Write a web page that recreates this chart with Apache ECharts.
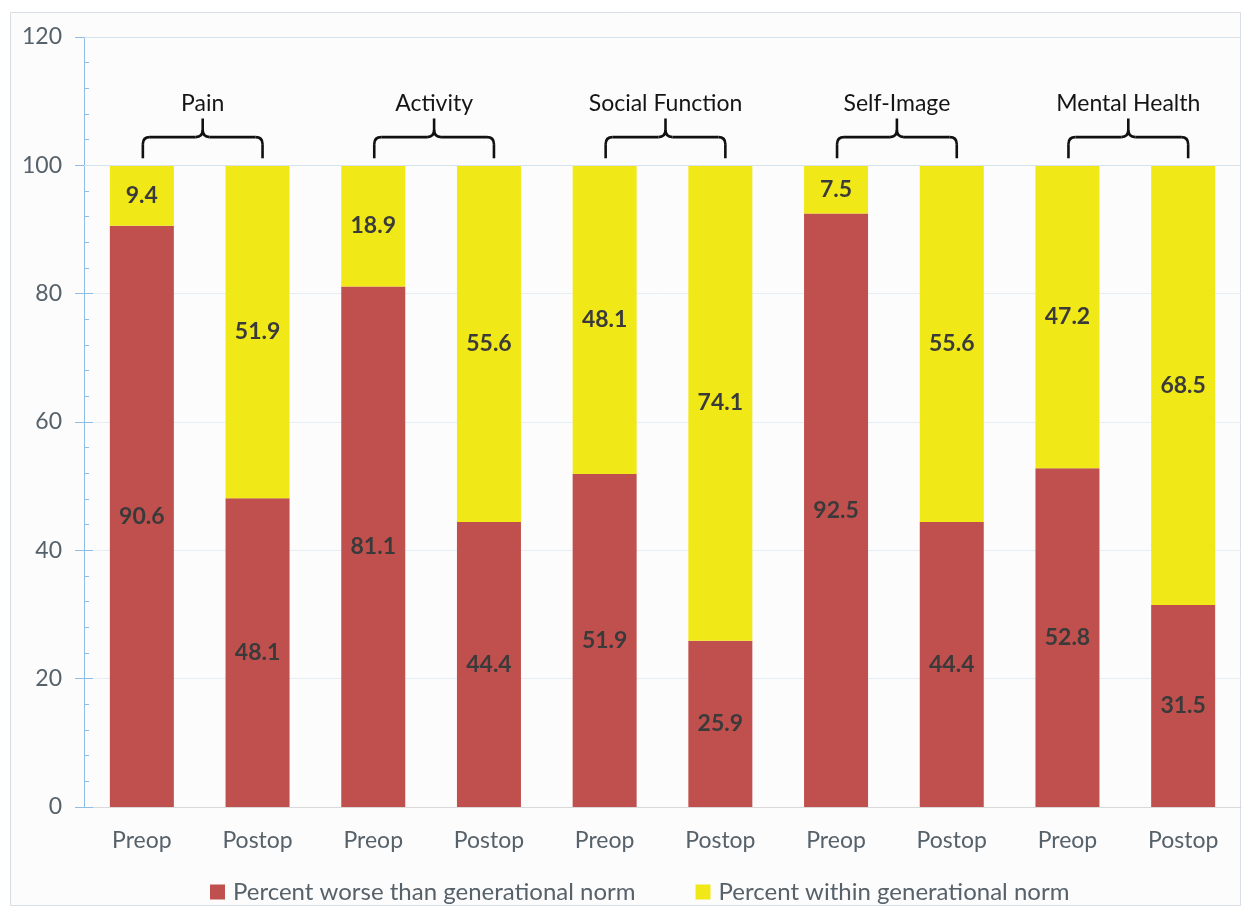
<!DOCTYPE html>
<html>
<head>
<meta charset="utf-8">
<title>Generational norm comparison</title>
<script src="https://cdn.jsdelivr.net/npm/echarts@6/dist/echarts.min.js"></script>
<style>
  html, body { margin: 0; padding: 0; background: #ffffff; }
  #chart { width: 1250px; height: 914px; }
</style>
</head>
<body>
<div id="chart"></div>
<script>
// Domains, each shown before and after surgery
const groups = ['Pain', 'Activity', 'Social Function', 'Self-Image', 'Mental Health'];
const phases = ['Preop', 'Postop'];
const categories = ['Preop', 'Postop', 'Preop', 'Postop', 'Preop', 'Postop', 'Preop', 'Postop', 'Preop', 'Postop'];

// Percent of patients worse than / within the generational norm
const worseValues  = [90.6, 48.1, 81.1, 44.4, 51.9, 25.9, 92.5, 44.4, 52.8, 31.5];
const withinValues = [9.4, 51.9, 18.9, 55.6, 48.1, 74.1, 7.5, 55.6, 47.2, 68.5];

const seriesNames = ['Percent worse than generational norm', 'Percent within generational norm'];
const yTicks = { min: 0, max: 120, interval: 20 };

const FONT = 'Lato, "Open Sans", sans-serif';
const TEXT_GRAY = '#56616a';
const AXIS_BLUE = '#8fbde6';

// bracket rows: [first category index, second category index]
const bracketData = groups.map((g, i) => [i * 2, i * 2 + 1, g]);

function renderBracket(params, api) {
  const i0 = api.value(0), i1 = api.value(1);
  const name = groups[params.dataIndex];
  const a = api.coord([i0, 101.1]);
  const b = api.coord([i1, 101.1]);
  const yb = a[1];
  const yh = api.coord([i0, 104.4])[1];
  const yp = api.coord([i0, 107.3])[1];
  const yl = api.coord([i0, 109.6])[1];
  const x1 = a[0] + 1, x2 = b[0] + 5;
  const xm = (x1 + x2) / 2;
  const r = 7;
  const st = { stroke: '#111111', lineWidth: 2.6, fill: null };
  const seg = (p, q) => ({ type: 'line', shape: { x1: p[0], y1: p[1], x2: q[0], y2: q[1] }, style: st });
  const curve = (p, c, q) => ({ type: 'bezierCurve', shape: { x1: p[0], y1: p[1], cpx1: c[0], cpy1: c[1], x2: q[0], y2: q[1] }, style: st });
  return {
    type: 'group',
    children: [
      seg([x1, yb], [x1, yh + r]),
      curve([x1, yh + r], [x1, yh], [x1 + r, yh]),
      seg([x1 + r, yh], [xm - r, yh]),
      curve([xm - r, yh], [xm, yh], [xm, yh - r]),
      seg([xm, yh - r], [xm, yp]),
      curve([xm, yh - r], [xm, yh], [xm + r, yh]),
      seg([xm + r, yh], [x2 - r, yh]),
      curve([x2 - r, yh], [x2, yh], [x2, yh + r]),
      seg([x2, yh + r], [x2, yb]),
      {
        type: 'text',
        style: {
          x: xm, y: yl, text: name, align: 'center', verticalAlign: 'middle',
          font: '23px ' + FONT, fill: '#151515'
        }
      }
    ]
  };
}

const chart = echarts.init(document.getElementById('chart'), null, { renderer: 'canvas' });

const barLabel = {
  show: true,
  position: 'inside',
  fontFamily: FONT,
  fontSize: 23,
  fontWeight: 'bold',
  color: '#3a3a3a'
};

chart.setOption({
  backgroundColor: '#ffffff',
  animation: false,
  graphic: [{
    type: 'rect',
    z: -10,
    shape: { x: 10.5, y: 12.5, width: 1230, height: 893 },
    style: { fill: '#fcfcfd', stroke: '#d8dee4', lineWidth: 1 }
  }],
  grid: { left: 84, right: 9, top: 37, bottom: 107, containLabel: false },
  legend: {
    left: 205,
    top: 875,
    itemWidth: 15,
    itemHeight: 15,
    itemGap: 60,
    icon: 'rect',
    textStyle: { fontFamily: FONT, fontSize: 24, color: TEXT_GRAY, padding: [0, 0, 0, 3] },
    data: seriesNames
  },
  xAxis: {
    type: 'category',
    data: categories,
    axisTick: { show: false },
    axisLine: { lineStyle: { color: '#d9d9d9', width: 1 } },
    axisLabel: { fontFamily: FONT, fontSize: 23, color: TEXT_GRAY, margin: 22 }
  },
  yAxis: [{
    type: 'value',
    min: yTicks.min,
    max: yTicks.max,
    interval: yTicks.interval,
    axisLine: { show: true, lineStyle: { color: AXIS_BLUE, width: 1 } },
    axisTick: { show: true, inside: false, length: 9, lineStyle: { color: AXIS_BLUE } },
    splitLine: { show: true, lineStyle: { color: '#e6eef5', width: 1 } },
    axisLabel: { fontFamily: FONT, fontSize: 23, color: TEXT_GRAY, margin: 22 }
  }, {
    type: 'value',
    position: 'left',
    min: yTicks.min,
    max: yTicks.max,
    interval: yTicks.interval,
    axisLine: { show: false },
    axisTick: { show: true, inside: true, length: 9, lineStyle: { color: AXIS_BLUE } },
    minorTick: { show: true, splitNumber: 5, length: 5, lineStyle: { color: AXIS_BLUE } },
    splitLine: { show: false },
    axisLabel: { show: false }
  }],
  series: [{
    name: seriesNames[0],
    type: 'bar',
    stack: 'total',
    barWidth: 64,
    data: worseValues,
    itemStyle: { color: '#c0504d' },
    label: barLabel,
    markLine: {
      silent: true,
      symbol: 'none',
      label: { show: false },
      lineStyle: { color: '#d6e2ec', width: 1, type: 'solid' },
      data: [{ yAxis: 100 }, { yAxis: 120 }]
    }
  }, {
    name: seriesNames[1],
    type: 'bar',
    stack: 'total',
    barWidth: 64,
    data: withinValues,
    itemStyle: { color: '#f1e817' },
    label: barLabel
  }, {
    type: 'custom',
    renderItem: renderBracket,
    data: bracketData,
    silent: true,
    z: 5,
    clip: false
  }]
});
</script>
</body>
</html>
